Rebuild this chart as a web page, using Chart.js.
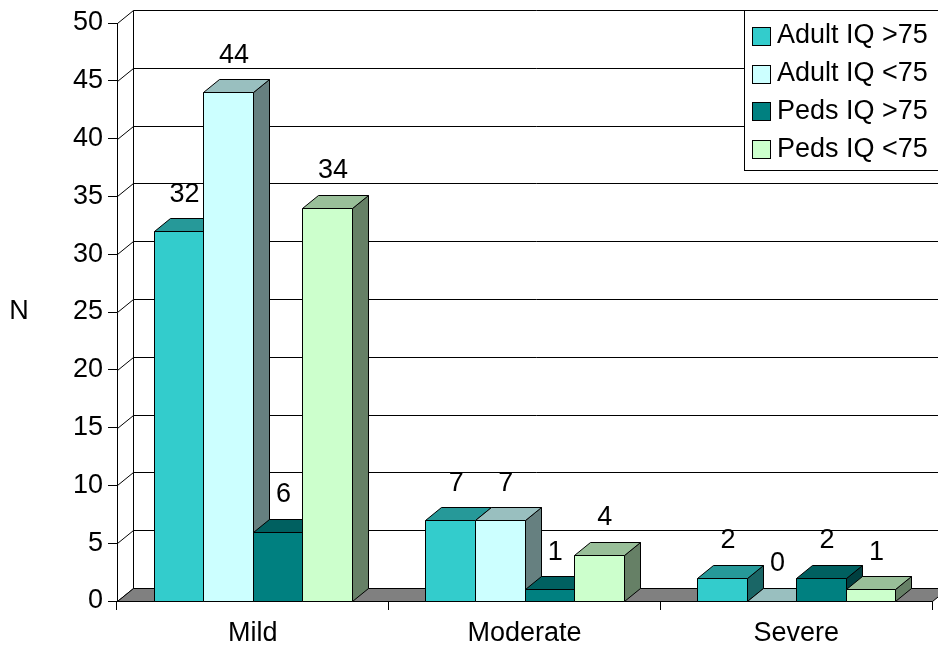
<!DOCTYPE html>
<html>
<head>
<meta charset="utf-8">
<script src="https://cdn.jsdelivr.net/npm/chart.js@4.4.1/dist/chart.umd.min.js"></script>
<style>
    html, body { margin: 0; padding: 0; background: #fff; }
    canvas { display: block; }
</style>
</head>
<body>
<canvas id="myChart" width="938" height="649"></canvas>
<script>
// Values
const categories = ['Mild', 'Moderate', 'Severe'];
const seriesNames = ['Adult IQ >75', 'Adult IQ <75', 'Peds IQ >75', 'Peds IQ <75'];
const adultIqHigh = [32, 7, 2];
const adultIqLow = [44, 7, 0];
const pedsIqHigh = [6, 1, 2];
const pedsIqLow = [34, 4, 1];
const yTicks = [0, 5, 10, 15, 20, 25, 30, 35, 40, 45, 50];

// Face colours: front, top (darker), side (darkest)
const frontColors = ['#33CCCC', '#CCFFFF', '#008080', '#CCFFCC'];
const topColors = ['#269999', '#99BFBF', '#006060', '#99BF99'];
const sideColors = ['#1A6666', '#668080', '#004040', '#668066'];

const FONT = '"Liberation Sans", Arial, sans-serif';
const FONT_SIZE = 27;
const DX = 16, DY = 13; // depth offset of the 3D box

const px = v => Math.round(v) + 0.5;

function poly(ctx, pts, fill) {
    ctx.beginPath();
    ctx.moveTo(pts[0][0], pts[0][1]);
    for (let i = 1; i < pts.length; i++) ctx.lineTo(pts[i][0], pts[i][1]);
    ctx.closePath();
    if (fill) {
        ctx.fillStyle = fill;
        ctx.fill();
    }
    ctx.stroke();
}

// Draws the walls, the floor and the 3D bars instead of the flat ones
const threeD = {
    id: 'threeD',
    beforeDatasetsDraw(chart) {
        const ctx = chart.ctx;
        const ca = chart.chartArea;
        const yScale = chart.scales.y;
        const left = px(ca.left), right = px(ca.right);
        ctx.save();
        ctx.lineWidth = 1;
        ctx.strokeStyle = '#000';

        // back wall and side wall grid lines
        yTicks.forEach(v => {
            const y = px(yScale.getPixelForValue(v));
            ctx.beginPath();
            ctx.moveTo(left, y);
            ctx.lineTo(left + DX, y - DY);
            ctx.lineTo(right + DX, y - DY);
            ctx.stroke();
        });
        ctx.beginPath();
        ctx.moveTo(left + DX, px(ca.top) - DY);
        ctx.lineTo(left + DX, px(ca.bottom) - DY);
        ctx.stroke();

        // floor
        const fy = px(yScale.getPixelForValue(0));
        poly(ctx, [[left, fy], [right, fy], [right + DX, fy - DY], [left + DX, fy - DY]], '#808080');

        // bars, left to right so nearer faces cover hidden ones
        const labels = [];
        chart.data.datasets.forEach((ds, d) => {
            const meta = chart.getDatasetMeta(d);
            meta.data.forEach((bar, i) => {
                const L = px(bar.x - bar.width / 2), R = px(bar.x + bar.width / 2);
                const T = px(bar.y), B = px(bar.base);
                if (B - T > 0) {
                    poly(ctx, [[R, T], [R + DX, T - DY], [R + DX, B - DY], [R, B]], sideColors[d]);
                }
                poly(ctx, [[L, T], [R, T], [R + DX, T - DY], [L + DX, T - DY]], topColors[d]);
                if (B - T > 0) {
                    poly(ctx, [[L, T], [R, T], [R, B], [L, B]], frontColors[d]);
                }
                labels.push([String(ds.data[i]), bar.x + DX / 2 - 2, bar.y - 37]);
            });
        });

        // value labels
        ctx.fillStyle = '#000';
        ctx.font = FONT_SIZE + 'px ' + FONT;
        ctx.textAlign = 'center';
        ctx.textBaseline = 'middle';
        labels.forEach(l => ctx.fillText(l[0], l[1], l[2]));

        ctx.restore();
        return false;
    },
    afterDraw(chart) {
        const ctx = chart.ctx;
        const yScale = chart.scales.y;
        ctx.save();
        ctx.font = FONT_SIZE + 'px ' + FONT;
        ctx.fillStyle = '#000';
        ctx.textBaseline = 'middle';

        // axis title, written upright
        ctx.textAlign = 'center';
        ctx.fillText('N', 19, (yScale.top + yScale.bottom) / 2);

        // legend box
        ctx.lineWidth = 1;
        ctx.strokeStyle = '#000';
        ctx.fillStyle = '#fff';
        ctx.fillRect(744.5, 10.5, 200, 160);
        ctx.strokeRect(744.5, 10.5, 200, 160);
        ctx.textAlign = 'left';
        chart.data.datasets.forEach((ds, d) => {
            const cy = 36 + d * 37.7;
            ctx.fillStyle = ds.backgroundColor;
            ctx.fillRect(752.5, Math.round(cy - 9) + 0.5, 18, 18);
            ctx.strokeRect(752.5, Math.round(cy - 9) + 0.5, 18, 18);
            ctx.fillStyle = '#000';
            ctx.fillText(ds.label, 777, cy);
        });
        ctx.restore();
    }
};

const ctx = document.getElementById('myChart').getContext('2d');

new Chart(ctx, {
    type: 'bar',
    data: {
        labels: categories,
        datasets: [
            { label: seriesNames[0], data: adultIqHigh, backgroundColor: frontColors[0] },
            { label: seriesNames[1], data: adultIqLow, backgroundColor: frontColors[1] },
            { label: seriesNames[2], data: pedsIqHigh, backgroundColor: frontColors[2] },
            { label: seriesNames[3], data: pedsIqLow, backgroundColor: frontColors[3] },
        ]
    },
    options: {
        responsive: false,
        animation: false,
        layout: {
            padding: { left: 0, right: 6, top: 23, bottom: 0 }
        },
        datasets: {
            bar: { categoryPercentage: 0.729, barPercentage: 1 }
        },
        scales: {
            x: {
                afterFit: scale => { scale.height = 48; },
                grid: { drawOnChartArea: false, offset: true, tickLength: 9, color: '#000' },
                border: { display: true, color: '#000' },
                ticks: { color: '#000', font: { family: FONT, size: FONT_SIZE }, padding: 7 }
            },
            y: {
                min: 0,
                max: 50,
                afterFit: scale => { scale.width = 117; },
                grid: { drawOnChartArea: false, tickLength: 9, color: '#000' },
                border: { display: true, color: '#000' },
                ticks: { stepSize: 5, color: '#000', font: { family: FONT, size: FONT_SIZE }, padding: 5 }
            }
        },
        plugins: {
            legend: { display: false },
            tooltip: { enabled: false }
        }
    },
    plugins: [threeD]
});
</script>
</body>
</html>
